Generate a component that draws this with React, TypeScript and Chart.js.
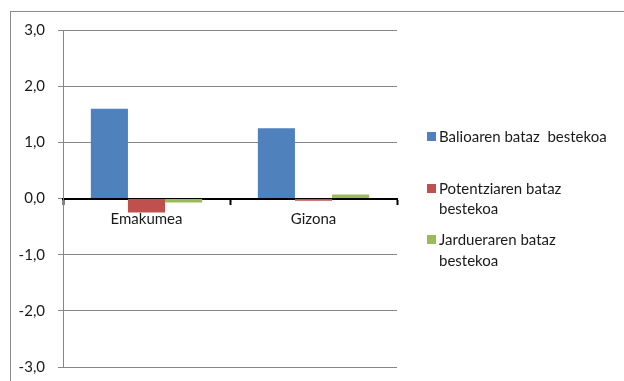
import React, { useEffect, useRef } from "react";
import { Chart, registerables } from "chart.js";

Chart.register(...registerables);

const categories = ["Emakumea", "Gizona"];
const seriesLabels = [
  ["Balioaren bataz  bestekoa"],
  ["Potentziaren bataz", "bestekoa"],
  ["Jardueraren bataz", "bestekoa"],
];
const balioa = [1.6, 1.25];
const potentzia = [-0.25, -0.04];
const jarduera = [-0.07, 0.07];
const colors = ["#4F81BD", "#C0504D", "#9BBB59"];

const FONT = "Lato, 'Liberation Sans', sans-serif";
const FONT_SIZE = 15;
const TEXT = "#1a1a1a";
const GRID = "#868686";

// Outer frame of the chart object
const framePlugin = {
  id: "frame",
  beforeDraw(chart: any) {
    const ctx = chart.ctx;
    ctx.save();
    ctx.fillStyle = "#ffffff";
    ctx.fillRect(0, 0, chart.width, chart.height);
    ctx.strokeStyle = "#8c8c8c";
    ctx.lineWidth = 1;
    ctx.strokeRect(10.5, 11.5, chart.width + 20, chart.height + 20);
    ctx.restore();
  },
};

// Legend on the right, with wrapped labels
const sideLegendPlugin = {
  id: "sideLegend",
  afterDraw(chart: any) {
    const ctx = chart.ctx;
    const items = [
      { box: 132, lines: [137] },
      { box: 184, lines: [189, 209] },
      { box: 235, lines: [240, 261] },
    ];
    ctx.save();
    ctx.font = `${FONT_SIZE}px ${FONT}`;
    ctx.textBaseline = "middle";
    ctx.textAlign = "left";
    chart.data.datasets.forEach((ds: any, i: number) => {
      const it = items[i];
      ctx.fillStyle = ds.backgroundColor;
      ctx.fillRect(427, it.box, 9, 9);
      ctx.fillStyle = TEXT;
      const text: string[] = seriesLabels[i];
      text.forEach((line, j) => ctx.fillText(line, 439, it.lines[j]));
    });
    ctx.restore();
  },
};

export default function App() {
  const ref = useRef<HTMLCanvasElement | null>(null);
  useEffect(() => {
    if (!ref.current) return;
    const chart = new Chart(ref.current, {
      type: "bar",
      data: {
        labels: categories,
        datasets: [
          { label: seriesLabels[0].join(" "), data: balioa, backgroundColor: colors[0] },
          { label: seriesLabels[1].join(" "), data: potentzia, backgroundColor: colors[1] },
          { label: seriesLabels[2].join(" "), data: jarduera, backgroundColor: colors[2] },
        ],
      },
      options: {
        animation: false,
        responsive: false,
        maintainAspectRatio: false,
        devicePixelRatio: 1,
        categoryPercentage: 3 / 4.5,
        barPercentage: 1,
        layout: { padding: { left: 0, top: 30, right: 227, bottom: 14 } },
        plugins: {
          legend: { display: false },
          tooltip: { enabled: false },
        },
        scales: {
          x: {
            position: { y: 0 } as any,
            afterFit(scale: any) {
              scale.paddingTop = 0;
              scale.paddingBottom = 0;
              scale.paddingLeft = 0;
              scale.paddingRight = 0;
            },
            grid: {
              offset: true,
              drawOnChartArea: false,
              drawTicks: true,
              tickLength: 5,
              tickColor: "#000000",
              tickWidth: 2,
            },
            border: { display: true, color: "#000000", width: 2 },
            ticks: {
              color: TEXT,
              font: { family: FONT, size: FONT_SIZE },
              padding: 7,
              maxRotation: 0,
            },
          },
          y: {
            min: -3,
            max: 3,
            afterFit(scale: any) {
              scale.width = 63;
              scale.paddingTop = 0;
              scale.paddingBottom = 0;
            },
            grid: {
              color: GRID,
              lineWidth: 1,
              tickLength: 5,
              tickColor: GRID,
            },
            border: { display: true, color: GRID, width: 1 },
            ticks: {
              stepSize: 1,
              color: TEXT,
              padding: 13,
              font: { family: FONT, size: FONT_SIZE },
              callback: (v: any) => Number(v).toFixed(1).replace(".", ","),
            },
          },
        },
      },
      plugins: [framePlugin, sideLegendPlugin],
    });
    return () => chart.destroy();
  }, []);
  return (
    <div style={{ position: "absolute", left: 0, top: 0, width: 624, height: 381 }}>
      <canvas ref={ref} width={624} height={381} style={{ display: "block" }} />
    </div>
  );
}
